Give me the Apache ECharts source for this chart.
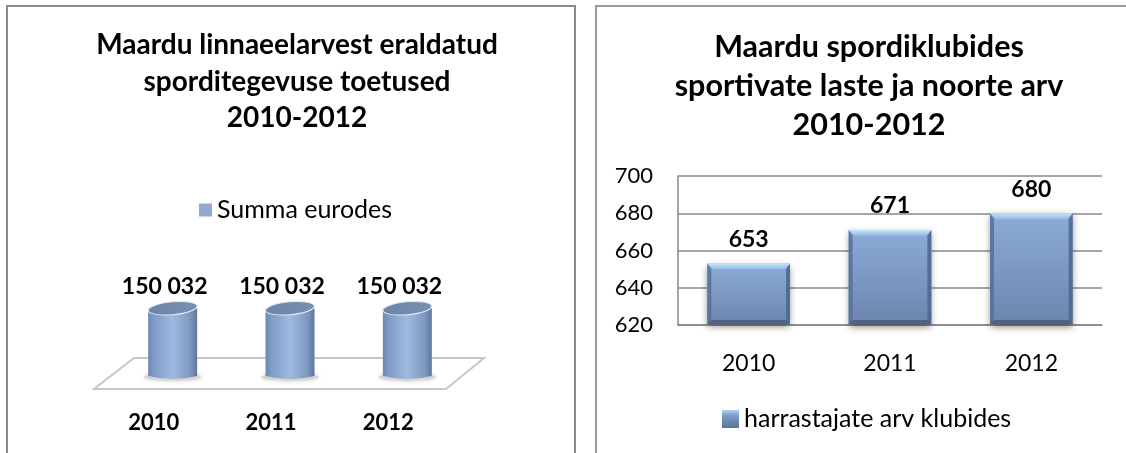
<!DOCTYPE html>
<html><head><meta charset="utf-8">
<style>html,body{margin:0;padding:0;background:#fff}#c{width:1126px;height:453px}</style>
<script src="https://cdn.jsdelivr.net/npm/echarts@6/dist/echarts.min.js"></script>
</head><body><div id="c"></div>
<script>
const years = ['2010', '2011', '2012'];
const fundingValues = [150032, 150032, 150032];
const fundingLabels = ['150 032', '150 032', '150 032'];
const memberValues = [653, 671, 680];
const memberTicks = [620, 640, 660, 680, 700];
const leftTitle = 'Maardu linnaeelarvest eraldatud\nsporditegevuse toetused\n2010-2012';
const rightTitle = 'Maardu spordiklubides\nsportivate laste ja noorte arv\n2010-2012';
const leftSeriesName = 'Summa eurodes';
const rightSeriesName = 'harrastajate arv klubides';

const FONT = 'Lato';
const chart = echarts.init(document.getElementById('c'), null, {renderer: 'canvas'});
const lg = (stops, hor) => new echarts.graphic.LinearGradient(0, 0, hor ? 1 : 0, hor ? 0 : 1, stops);

function renderCylinder(params, api) {
  const i = api.value(0), v = api.value(1);
  const top = api.coord([i, v]), base = api.coord([i, 0]);
  const cx = top[0] , hw = 24.5, ry = 6.5;
  const bodyFill = lg([
    {offset: 0, color: '#6d87ae'}, {offset: .12, color: '#7f9bc6'}, {offset: .5, color: '#9fb9e1'},
    {offset: .85, color: '#7f99c3'}, {offset: 1, color: '#5f769b'}], true);
  return {type: 'group', children: [
    {type: 'ellipse', shape: {cx: cx, cy: base[1] - 1, rx: hw + 4, ry: 3.5},
      style: {fill: '#d4d4d4', shadowBlur: 4, shadowColor: '#c4c4c4'}},
    {type: 'path', shape: {
        pathData: `M${cx - hw} ${top[1]} L${cx - hw} ${base[1] - 2} Q${cx} ${base[1] + 4} ${cx + hw} ${base[1] - 2} L${cx + hw} ${top[1]} Z`,
        layout: 'cover', x: cx - hw, y: top[1], width: hw * 2, height: base[1] + 1 - top[1]},
      style: {fill: bodyFill}},
    {type: 'ellipse', shape: {cx: cx, cy: top[1], rx: hw, ry: ry},
      rotation: 0.09, originX: cx, originY: top[1],
      style: {fill: lg([{offset: 0, color: '#6c84a9'}, {offset: 1, color: '#7890b4'}], true), stroke: '#e8eef8', lineWidth: 1}},
    {type: 'text', x: cx - 8, y: top[1] - 22,
      style: {text: fundingLabels[i], font: `bold 23px ${FONT}`, fill: '#000', align: 'center', verticalAlign: 'middle'}}
  ]};
}

function renderBevelBar(params, api) {
  const i = api.value(0), v = api.value(1);
  const top = api.coord([i, v]), base = api.coord([i, memberTicks[0]]);
  const w = api.size([1, 0])[0] * 0.585;
  const x0 = top[0] - w / 2, x1 = top[0] + w / 2, y0 = top[1], y1 = base[1] - 1, b = 6, s = 4;
  return {type: 'group', children: [
    {type: 'rect', shape: {x: x0, y: y0, width: w, height: y1 - y0},
      style: {fill: lg([{offset: 0, color: '#8dabd8'}, {offset: 1, color: '#6c85ad'}]),
        shadowBlur: 7, shadowOffsetY: 3, shadowColor: 'rgba(0,0,0,.45)'}},
    {type: 'polygon', shape: {points: [[x0, y0], [x0 + s, y0 + b], [x0 + s, y1 - s], [x0, y1]]},
      style: {fill: '#56709c', opacity: .85}},
    {type: 'polygon', shape: {points: [[x1, y0], [x1 - s, y0 + b], [x1 - s, y1 - s], [x1, y1]]},
      style: {fill: '#506890', opacity: .9}},
    {type: 'polygon', shape: {points: [[x0, y1], [x0 + s, y1 - s], [x1 - s, y1 - s], [x1, y1]]},
      style: {fill: '#4c6288'}},
    {type: 'polygon', shape: {points: [[x0, y0], [x1, y0], [x1 - b, y0 + b], [x0 + b, y0 + b]]},
      style: {fill: lg([{offset: 0, color: '#c5e6fb'}, {offset: 1, color: '#93b6e2'}])}},
    {type: 'text', x: top[0], y: y0 - 24,
      style: {text: String(memberValues[i]), font: `bold 23px ${FONT}`, fill: '#000', align: 'center', verticalAlign: 'middle'}}
  ]};
}

chart.setOption({
  animation: false,
  backgroundColor: '#fff',
  textStyle: {fontFamily: FONT},
  title: [
    {text: leftTitle, left: 292, top: 22, textAlign: 'center',
      textStyle: {fontFamily: FONT, fontWeight: 'bold', fontSize: 28, lineHeight: 36.5, color: '#000'}},
    {text: rightTitle, left: 864, top: 23, textAlign: 'center',
      textStyle: {fontFamily: FONT, fontWeight: 'bold', fontSize: 30.5, lineHeight: 39, color: '#000'}}
  ],
  legend: [
    {left: 199, top: 195, padding: 0, icon: 'rect', itemWidth: 13, itemHeight: 13, itemGap: 7, data: [leftSeriesName],
      textStyle: {fontFamily: FONT, fontSize: 25, color: '#000', padding: 0, lineHeight: 30}},
    {left: 722, top: 404, padding: 0, icon: 'rect', itemWidth: 17, itemHeight: 18, itemGap: 8, data: [rightSeriesName],
      textStyle: {fontFamily: FONT, fontSize: 25, color: '#000', padding: 0, lineHeight: 30}}
  ],
  grid: [
    {left: 114, width: 352, top: 285, height: 93},
    {left: 678, width: 424, top: 176, height: 149}
  ],
  xAxis: [
    {type: 'category', gridIndex: 0, data: years,
      axisLine: {show: false}, axisTick: {show: false},
      axisLabel: {margin: 34, padding: [0, 38, 0, 0], fontFamily: FONT, fontWeight: 'bold', fontSize: 22, color: '#000'}},
    {type: 'category', gridIndex: 1, data: years,
      axisLine: {lineStyle: {color: '#888', width: 1.5}}, axisTick: {show: false},
      axisLabel: {margin: 27, fontFamily: FONT, fontSize: 23, color: '#000'}}
  ],
  yAxis: [
    {type: 'value', gridIndex: 0, min: 0, max: 200000, show: false},
    {type: 'value', gridIndex: 1, min: memberTicks[0], max: memberTicks[memberTicks.length - 1], interval: 20,
      axisLine: {show: true, lineStyle: {color: '#888', width: 1.5}}, axisTick: {show: false},
      splitLine: {lineStyle: {color: '#888', width: 1.5}},
      axisLabel: {margin: 25, padding: [6, 0, 0, 0], fontFamily: FONT, fontSize: 22, color: '#000'}}
  ],
  graphic: [
    {type: 'polygon', z: 0, shape: {points: [[94, 389], [446, 389], [484, 358], [134, 358]]},
      style: {fill: '#fff', stroke: '#c8c8c8', lineWidth: 2}},
    {type: 'polyline', shape: {points: [[7, 453], [7, 6], [575, 6], [575, 453]]},
      style: {fill: null, stroke: '#8a8a8a', lineWidth: 2}},
    {type: 'polyline', shape: {points: [[596, 453], [596, 6], [1126, 6]]},
      style: {fill: null, stroke: '#9a9a9a', lineWidth: 2}}
  ],
  series: [
    {type: 'custom', name: leftSeriesName, xAxisIndex: 0, yAxisIndex: 0, z: 3,
      coordinateSystem: 'cartesian2d', renderItem: renderCylinder,
      itemStyle: {color: '#93a9d0'}, encode: {x: 0, y: 1},
      data: years.map((y, i) => [i, fundingValues[i]])},
    {type: 'custom', name: rightSeriesName, xAxisIndex: 1, yAxisIndex: 1, z: 3,
      coordinateSystem: 'cartesian2d', renderItem: renderBevelBar,
      itemStyle: {color: lg([{offset: 0, color: '#b3d3f2'}, {offset: .3, color: '#7f9ccb'}, {offset: 1, color: '#5a7098'}])},
      encode: {x: 0, y: 1},
      data: years.map((y, i) => [i, memberValues[i]])}
  ]
});
</script></body></html>
